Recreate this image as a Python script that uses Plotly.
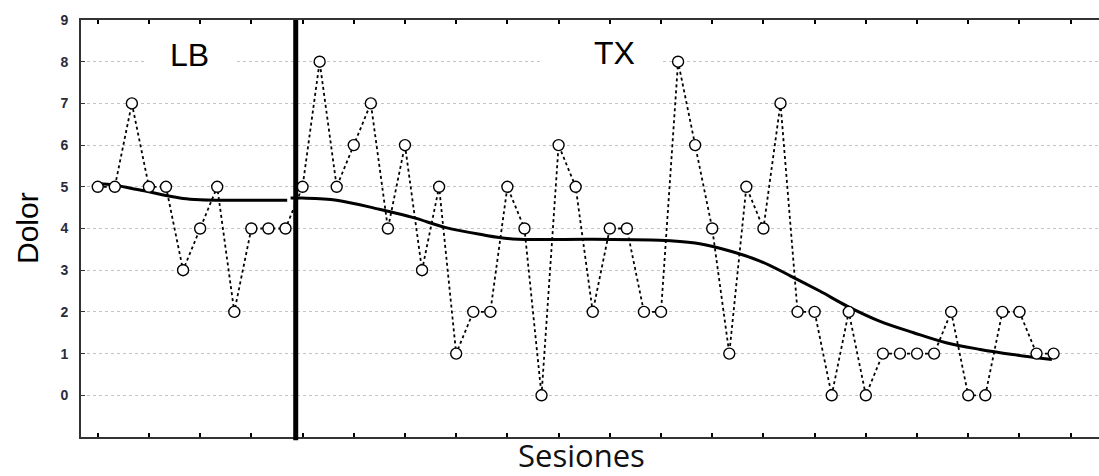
import plotly.graph_objects as go

# ---- data ----
baseline_sessions = list(range(1, 13))
baseline_pain = [5, 5, 7, 5, 5, 3, 4, 5, 2, 4, 4, 4]

treatment_sessions = list(range(13, 58))
treatment_pain = [5, 8, 5, 6, 7, 4, 6, 3, 5, 1, 2, 2, 5, 4, 0, 6, 5, 2, 4, 4,
                  2, 2, 8, 6, 4, 1, 5, 4, 7, 2, 2, 0, 2, 0, 1, 1, 1, 1, 2, 0,
                  0, 2, 2, 1, 1]

trend_base_x = [1, 2, 3, 4, 5, 6, 7, 8, 9, 12.1]
trend_base_y = [5.08, 5.04, 4.96, 4.88, 4.79, 4.72, 4.69, 4.68, 4.68, 4.68]
trend_tx_x = [12.3, 13, 15, 17.5, 19.5, 21.4, 23.4, 25.3, 30, 33.9, 36, 37.5,
              39.8, 41.6, 43.3, 44.9, 46.8, 48.8, 50.7, 52.7, 54.6, 56.9]
trend_tx_y = [4.73, 4.73, 4.68, 4.46, 4.26, 4.02, 3.86, 3.75, 3.74, 3.72, 3.65,
              3.52, 3.22, 2.86, 2.50, 2.14, 1.78, 1.50, 1.26, 1.10, 0.98, 0.86]

phase_change = 12.6
phase_labels = ["LB", "TX"]
phase_label_x = [6.35, 31.3]
phase_label_y = [8.15, 8.22]

y_ticks = list(range(0, 10))
x_ticks = list(range(1, 59, 3))

sessions = baseline_sessions + treatment_sessions
pain = baseline_pain + treatment_pain

W, H = 1099, 476
ml, mr, mt, mb = 81, 0, 20, 39
pw, ph = W - ml - mr, H - mt - mb

fig = go.Figure()

# trend lines
for tx, ty in ((trend_base_x, trend_base_y), (trend_tx_x, trend_tx_y)):
    fig.add_trace(go.Scatter(x=tx, y=ty, mode="lines",
                             line=dict(color="black", width=3, shape="spline", smoothing=1),
                             hoverinfo="skip", showlegend=False))

# observed values
fig.add_trace(go.Scatter(x=sessions, y=pain, mode="lines+markers",
                         line=dict(color="black", width=1.8, dash="dot"),
                         marker=dict(symbol="circle", size=11, color="white",
                                     line=dict(color="black", width=1.4)),
                         showlegend=False))

# phase change line
fig.add_shape(type="line", x0=phase_change, x1=phase_change, xref="x",
              y0=-0.008, y1=1, yref="paper",
              line=dict(color="black", width=5), layer="above")

# white boxes masking gridline behind labels
fig.add_shape(type="rect", x0=3.83, x1=9.1, y0=7.75, y1=8.25, xref="x", yref="y",
              fillcolor="white", line=dict(width=0), layer="between")
fig.add_shape(type="rect", x0=27.0, x1=33.95, y0=7.75, y1=8.25, xref="x", yref="y",
              fillcolor="white", line=dict(width=0), layer="between")

for lbl, lx, ly in zip(phase_labels, phase_label_x, phase_label_y):
    fig.add_annotation(x=lx, y=ly, xref="x", yref="y", text=lbl, showarrow=False,
                       font=dict(family="Liberation Sans, Arial", size=32, color="black"))

# axis titles as annotations (pixel positions converted to paper coords)
fig.add_annotation(x=(27 - ml) / pw, y=(H - mb - 228) / ph, xref="paper", yref="paper",
                   text="Dolor", showarrow=False, textangle=-90,
                   xanchor="center", yanchor="middle",
                   font=dict(family="Liberation Sans, Arial", size=30, color="black"))
fig.add_annotation(x=(581 - ml) / pw, y=(H - mb - 455) / ph, xref="paper", yref="paper",
                   text="Sesiones", showarrow=False, xanchor="center", yanchor="middle",
                   font=dict(family="Open Sans", size=31, color="#111"))

fig.update_layout(
    width=W, height=H,
    margin=dict(l=ml, r=mr, t=mt, b=mb),
    paper_bgcolor="white", plot_bgcolor="white",
    xaxis=dict(range=[0.02, 59.66], tickvals=x_ticks, showticklabels=False,
               ticks="inside", ticklen=4, tickwidth=2, tickcolor="black",
               showgrid=False, zeroline=False, showline=True,
               linecolor="#333", linewidth=1.6, mirror="ticks"),
    yaxis=dict(range=[-1, 9], tickvals=y_ticks, ticks="inside", ticklen=4,
               tickwidth=1, tickcolor="#333", showline=True, linecolor="#333",
               linewidth=1.6, zeroline=False,
               showgrid=True, gridcolor="#c4c4c4", gridwidth=1, griddash="dot",
               ticklabelstandoff=8,
               tickfont=dict(family="Liberation Sans, Arial", size=14,
                             color="#2a2a3a", weight="bold")),
)

fig.write_html("out.html")
